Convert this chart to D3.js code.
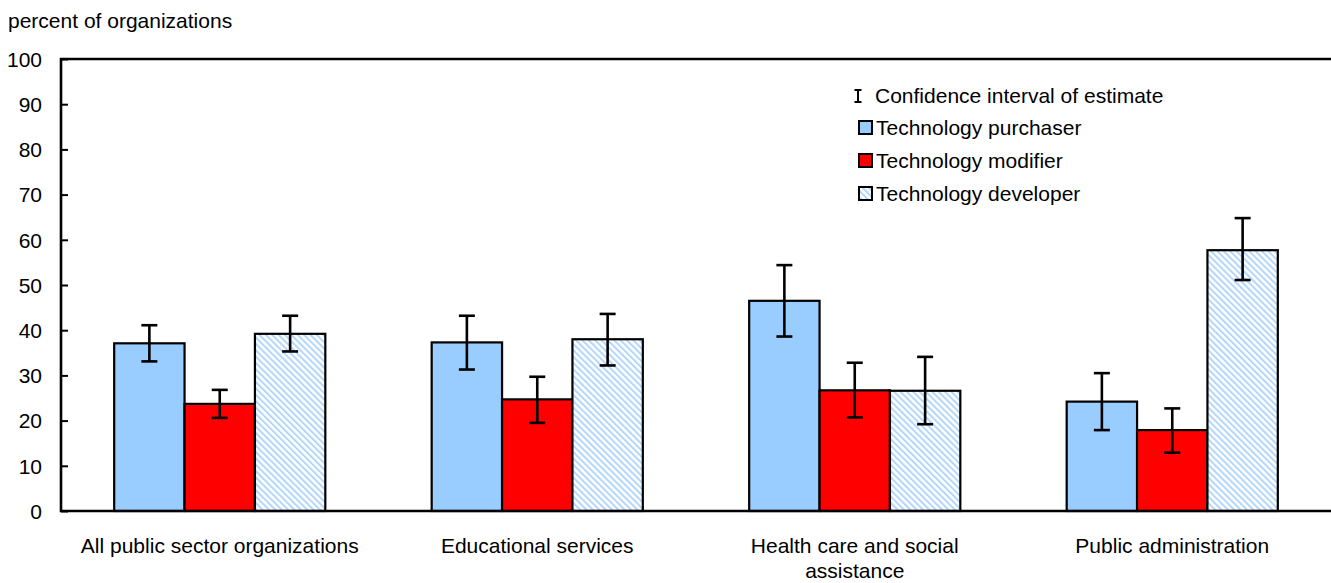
<!DOCTYPE html>
<html>
<head>
<meta charset="utf-8">
<script src="https://cdn.jsdelivr.net/npm/d3@7"></script>
<style>
  html, body { margin: 0; padding: 0; background: #fff; }
  svg { display: block; font-family: "Liberation Sans", Arial, Helvetica, sans-serif; }
</style>
</head>
<body>
<svg id="chart" width="1331" height="583"></svg>
<script>
// Industry groups shown along the horizontal axis
const categories = [
  ["All public sector organizations"],
  ["Educational services"],
  ["Health care and social", "assistance"],
  ["Public administration"]
];
const seriesNames = ["Technology purchaser", "Technology modifier", "Technology developer"];

// Estimates (percent of organizations) per series, in category order
const purchaser = [37.1, 37.3, 46.5, 24.2];
const modifier  = [23.7, 24.7, 26.7, 17.9];
const developer = [39.2, 38.0, 26.6, 57.7];

// Confidence interval bounds per series
const purchaserLow  = [33.1, 31.3, 38.6, 17.9];
const purchaserHigh = [41.1, 43.2, 54.4, 30.5];
const modifierLow   = [20.6, 19.5, 20.7, 12.9];
const modifierHigh  = [26.8, 29.7, 32.8, 22.7];
const developerLow  = [35.3, 32.2, 19.2, 51.1];
const developerHigh = [43.2, 43.6, 34.1, 64.8];

const yTicks = [0, 10, 20, 30, 40, 50, 60, 70, 80, 90, 100];

const values = [purchaser, modifier, developer];
const lows = [purchaserLow, modifierLow, developerLow];
const highs = [purchaserHigh, modifierHigh, developerHigh];

const svg = d3.select("#chart");
const width = 1331, height = 583;
const margin = { top: 59, right: 0, bottom: 72, left: 61 };
const fontSize = "21px";

const x0 = d3.scaleBand()
  .domain(d3.range(categories.length))
  .range([margin.left, width - margin.right])
  .paddingInner(0.335)
  .paddingOuter(0.1675);

const x1 = d3.scaleBand()
  .domain(d3.range(seriesNames.length))
  .range([0, x0.bandwidth()])
  .padding(0);

const y = d3.scaleLinear().domain([0, 100]).range([height - margin.bottom, margin.top]);

// Hatched fill for developer bars
const defs = svg.append("defs");
const pat = defs.append("pattern")
  .attr("id", "hatch")
  .attr("patternUnits", "userSpaceOnUse")
  .attr("width", 4.5).attr("height", 4.5)
  .attr("patternTransform", "rotate(-45)");
pat.append("rect").attr("width", 4.5).attr("height", 4.5).attr("fill", "#ffffff");
pat.append("rect").attr("x", 0).attr("y", 0).attr("width", 2).attr("height", 4.5).attr("fill", "#b3d6fb");

const fills = ["#99ccff", "#ff0000", "url(#hatch)"];

// Y axis with inward ticks
const yAxis = d3.axisLeft(y).tickValues(yTicks).tickSize(-7).tickPadding(19).tickFormat(d3.format("d"));
const gy = svg.append("g").attr("transform", `translate(${margin.left},0)`).call(yAxis);
gy.select(".domain").remove();
gy.selectAll(".tick line").attr("stroke", "#000").attr("stroke-width", 2);
gy.selectAll(".tick text").attr("fill", "#000").style("font-size", fontSize).attr("dy", "0.35em");

// Bars
const groups = svg.append("g").selectAll("g")
  .data(categories)
  .join("g")
  .attr("transform", (d, i) => `translate(${x0(i)},0)`);

groups.selectAll("rect")
  .data((d, i) => seriesNames.map((s, j) => ({ j, v: values[j][i] })))
  .join("rect")
  .attr("x", d => x1(d.j))
  .attr("y", d => y(d.v))
  .attr("width", x1.bandwidth())
  .attr("height", d => y(0) - y(d.v))
  .attr("fill", d => fills[d.j])
  .attr("stroke", "#000")
  .attr("stroke-width", 2.2);

// Confidence interval whiskers
const capHalf = 8;
const eb = groups.selectAll("g.err")
  .data((d, i) => seriesNames.map((s, j) => ({ j, lo: lows[j][i], hi: highs[j][i] })))
  .join("g").attr("class", "err")
  .attr("stroke", "#000").attr("stroke-width", 2.6);
eb.append("line")
  .attr("x1", d => x1(d.j) + x1.bandwidth() / 2).attr("x2", d => x1(d.j) + x1.bandwidth() / 2)
  .attr("y1", d => y(d.lo)).attr("y2", d => y(d.hi));
eb.append("line")
  .attr("x1", d => x1(d.j) + x1.bandwidth() / 2 - capHalf).attr("x2", d => x1(d.j) + x1.bandwidth() / 2 + capHalf)
  .attr("y1", d => y(d.hi)).attr("y2", d => y(d.hi));
eb.append("line")
  .attr("x1", d => x1(d.j) + x1.bandwidth() / 2 - capHalf).attr("x2", d => x1(d.j) + x1.bandwidth() / 2 + capHalf)
  .attr("y1", d => y(d.lo)).attr("y2", d => y(d.lo));

// Frame: left, top and bottom lines
const frame = svg.append("g").attr("stroke", "#000").attr("stroke-width", 2.6).attr("fill", "none");
frame.append("path").attr("d", `M${width},${y(100)}H${margin.left}V${y(0)}H${width}`);

// Category labels
const xl = svg.append("g").style("font-size", fontSize).attr("fill", "#000").attr("text-anchor", "middle");
categories.forEach((lines, i) => {
  const cx = x0(i) + x0.bandwidth() / 2;
  const t = xl.append("text").attr("x", cx).attr("y", y(0) + 42);
  lines.forEach((ln, k) => t.append("tspan").attr("x", cx).attr("dy", k === 0 ? 0 : 25).text(ln));
});

// Y axis title
svg.append("text").attr("x", 8).attr("y", 28).style("font-size", fontSize).attr("fill", "#000").text("percent of organizations");

// Legend
const lg = svg.append("g").attr("transform", "translate(858,0)").style("font-size", fontSize);
const rowY = [96, 128, 161, 194];
const ci = lg.append("g").attr("stroke", "#000").attr("stroke-width", 2);
ci.append("line").attr("x1", 0).attr("x2", 0).attr("y1", rowY[0] - 6).attr("y2", rowY[0] + 6);
ci.append("line").attr("x1", -3.5).attr("x2", 3.5).attr("y1", rowY[0] - 6).attr("y2", rowY[0] - 6);
ci.append("line").attr("x1", -3.5).attr("x2", 3.5).attr("y1", rowY[0] + 6).attr("y2", rowY[0] + 6);
lg.append("text").attr("x", 17).attr("y", rowY[0]).attr("dy", "0.35em").text("Confidence interval of estimate");
seriesNames.forEach((s, j) => {
  lg.append("rect").attr("x", 1).attr("y", rowY[j + 1] - 7).attr("width", 13).attr("height", 13)
    .attr("fill", fills[j]).attr("stroke", "#000").attr("stroke-width", 2);
  lg.append("text").attr("x", 18).attr("y", rowY[j + 1]).attr("dy", "0.35em").text(s);
});
</script>
</body>
</html>
